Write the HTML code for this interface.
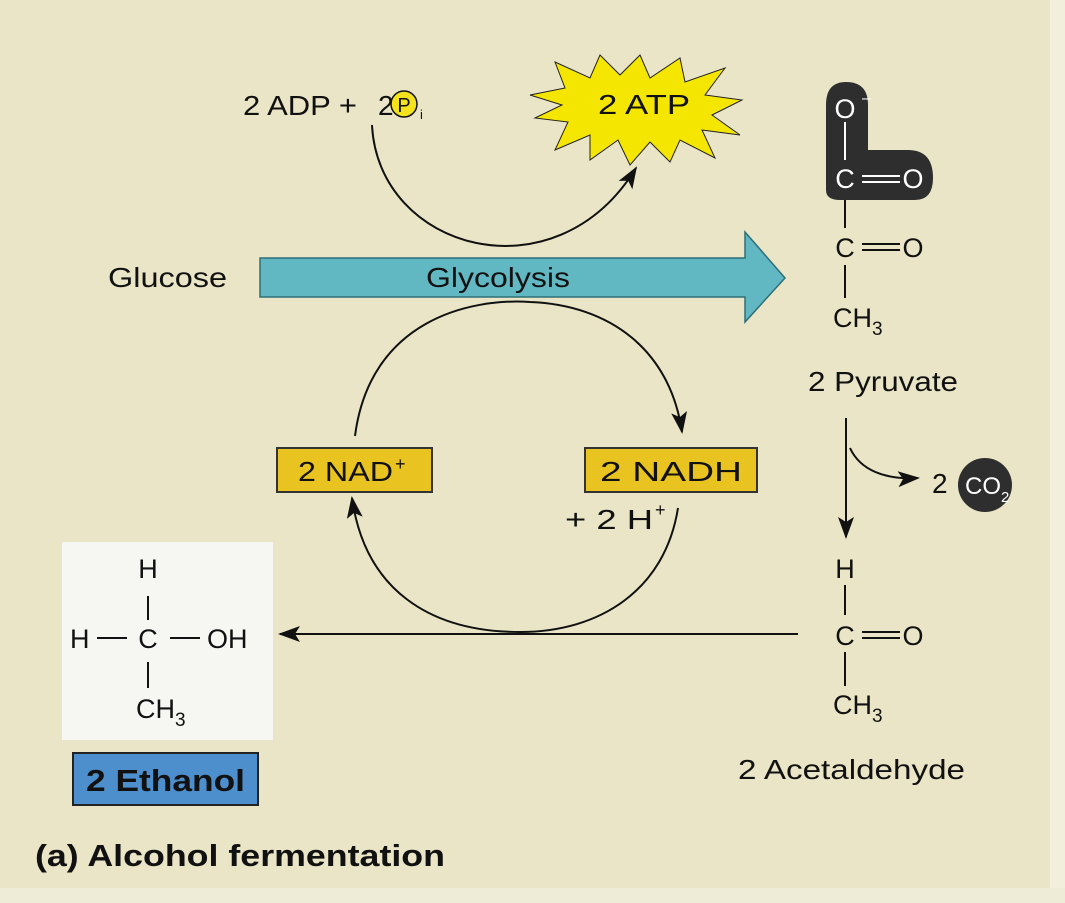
<!DOCTYPE html>
<html><head><meta charset="utf-8"><style>
html,body{margin:0;padding:0;background:#e9e5c6;}
svg{display:block;font-family:"Liberation Sans","DejaVu Sans",sans-serif;}
</style></head><body>
<svg width="1065" height="903" viewBox="0 0 1065 903" xmlns="http://www.w3.org/2000/svg">
<defs>
<marker id="ahb" markerWidth="22" markerHeight="16" refX="20" refY="8" orient="auto" markerUnits="userSpaceOnUse">
<path d="M0,0 L22,8 L0,16 L5,8 Z" fill="#111"/></marker>
</defs>
<rect x="0" y="0" width="1065" height="903" fill="#e9e5c6"/>
<rect x="1050" y="0" width="15" height="903" fill="#f2efdd"/>
<rect x="0" y="888" width="1065" height="15" fill="#eeebd6"/>

<!-- top: ADP + Pi -->
<text x="243" y="115" font-size="28" fill="#111" textLength="114" lengthAdjust="spacingAndGlyphs">2 ADP +</text>
<text x="378" y="115" font-size="28" fill="#111">2</text>
<circle cx="404" cy="104" r="13" fill="#f3e21c" stroke="#111" stroke-width="1.5"/>
<text x="404" y="112" font-size="20" text-anchor="middle" fill="#111">P</text>
<text x="420" y="119" font-size="13" fill="#111">i</text>

<!-- starburst -->
<polygon fill="#f5e600" stroke="#222" stroke-width="1" points="530,95 565,88 555,62 590,78 600,55 620,75 640,55 650,78 680,58 685,82 725,68 705,95 742,100 712,115 740,135 702,130 715,158 680,140 670,162 650,142 630,165 618,140 590,160 590,135 555,150 568,122 535,118 562,105"/>
<text x="644" y="114" font-size="28" text-anchor="middle" fill="#111" textLength="92" lengthAdjust="spacingAndGlyphs">2 ATP</text>

<path d="M372,125 C378,250 555,300 636,168" fill="none" stroke="#111" stroke-width="2" marker-end="url(#ahb)"/>

<!-- Glucose + glycolysis arrow -->
<text x="108" y="287" font-size="28" fill="#111" textLength="119" lengthAdjust="spacingAndGlyphs">Glucose</text>
<polygon points="260,258 745,258 745,232 785,278 745,322 745,297 260,297" fill="#62b8c2" stroke="#2d6f78" stroke-width="1.5"/>
<text x="426" y="287" font-size="28" fill="#111" textLength="144" lengthAdjust="spacingAndGlyphs">Glycolysis</text>

<!-- NAD cycle -->
<path d="M355,436 C370,320 470,298 530,302 C610,305 670,350 682,432" fill="none" stroke="#111" stroke-width="2" marker-end="url(#ahb)"/>
<path d="M678,508 C665,590 600,632 520,632 C430,632 365,590 352,498" fill="none" stroke="#111" stroke-width="2" marker-end="url(#ahb)"/>
<rect x="277" y="448" width="155" height="44" fill="#e9c31f" stroke="#333" stroke-width="2"/>
<text x="298" y="481" font-size="28" fill="#111" textLength="95" lengthAdjust="spacingAndGlyphs">2 NAD</text>
<text x="395" y="470" font-size="18" fill="#111">+</text>
<rect x="585" y="448" width="172" height="44" fill="#e9c31f" stroke="#333" stroke-width="2"/>
<text x="600" y="481" font-size="28" fill="#111" textLength="142" lengthAdjust="spacingAndGlyphs">2 NADH</text>
<text x="565" y="529" font-size="28" fill="#111" textLength="88" lengthAdjust="spacingAndGlyphs">+ 2 H</text>
<text x="655" y="516" font-size="18" fill="#111">+</text>

<!-- pyruvate -->
<path d="M846,82 Q826,82 826,105 L826,190 Q826,200 840,200 L915,200 Q933,200 933,178 Q933,150 908,150 L868,150 L868,105 Q868,82 846,82 Z" fill="#2e2e2e"/>
<text x="845" y="118" font-size="27" text-anchor="middle" fill="#fff">O</text>
<text x="862" y="103" font-size="16" fill="#fff">–</text>
<line x1="845" y1="122" x2="845" y2="160" stroke="#fff" stroke-width="2"/>
<text x="845" y="188" font-size="27" text-anchor="middle" fill="#fff">C</text>
<line x1="862" y1="176" x2="900" y2="176" stroke="#fff" stroke-width="2"/>
<line x1="862" y1="182" x2="900" y2="182" stroke="#fff" stroke-width="2"/>
<text x="913" y="188" font-size="27" text-anchor="middle" fill="#fff">O</text>
<line x1="845" y1="200" x2="845" y2="228" stroke="#111" stroke-width="2"/>
<text x="845" y="257" font-size="27" text-anchor="middle" fill="#111">C</text>
<line x1="862" y1="244" x2="900" y2="244" stroke="#111" stroke-width="2"/>
<line x1="862" y1="250" x2="900" y2="250" stroke="#111" stroke-width="2"/>
<text x="913" y="257" font-size="27" text-anchor="middle" fill="#111">O</text>
<line x1="845" y1="265" x2="845" y2="298" stroke="#111" stroke-width="2"/>
<text x="833" y="327" font-size="27" fill="#111">CH<tspan font-size="19" dy="8">3</tspan></text>
<text x="808" y="391" font-size="28" fill="#111" textLength="150" lengthAdjust="spacingAndGlyphs">2 Pyruvate</text>

<!-- down arrow and CO2 -->
<line x1="846" y1="418" x2="846" y2="537" stroke="#111" stroke-width="2" marker-end="url(#ahb)"/>
<path d="M850,448 C860,470 885,480 918,478" fill="none" stroke="#111" stroke-width="2" marker-end="url(#ahb)"/>
<text x="932" y="493" font-size="28" fill="#111">2</text>
<circle cx="985" cy="485" r="27" fill="#2e2e2e"/>
<text x="965" y="494" font-size="24" fill="#fff">CO</text>
<text x="1001" y="502" font-size="15" fill="#fff">2</text>

<!-- acetaldehyde -->
<text x="845" y="578" font-size="27" text-anchor="middle" fill="#111">H</text>
<line x1="845" y1="585" x2="845" y2="615" stroke="#111" stroke-width="2"/>
<text x="845" y="645" font-size="27" text-anchor="middle" fill="#111">C</text>
<line x1="862" y1="632" x2="900" y2="632" stroke="#111" stroke-width="2"/>
<line x1="862" y1="638" x2="900" y2="638" stroke="#111" stroke-width="2"/>
<text x="913" y="645" font-size="27" text-anchor="middle" fill="#111">O</text>
<line x1="845" y1="652" x2="845" y2="686" stroke="#111" stroke-width="2"/>
<text x="833" y="714" font-size="27" fill="#111">CH<tspan font-size="19" dy="8">3</tspan></text>
<text x="738" y="779" font-size="28" fill="#111" textLength="227" lengthAdjust="spacingAndGlyphs">2 Acetaldehyde</text>

<line x1="798" y1="634" x2="280" y2="634" stroke="#111" stroke-width="2" marker-end="url(#ahb)"/>

<!-- ethanol -->
<rect x="62" y="542" width="211" height="198" fill="#f6f6f3"/>
<text x="148" y="578" font-size="27" text-anchor="middle" fill="#111">H</text>
<line x1="148" y1="596" x2="148" y2="620" stroke="#111" stroke-width="2"/>
<text x="70" y="648" font-size="27" fill="#111">H</text>
<line x1="97" y1="638" x2="127" y2="638" stroke="#111" stroke-width="2"/>
<text x="148" y="648" font-size="27" text-anchor="middle" fill="#111">C</text>
<line x1="170" y1="638" x2="200" y2="638" stroke="#111" stroke-width="2"/>
<text x="207" y="648" font-size="27" fill="#111">OH</text>
<line x1="148" y1="662" x2="148" y2="688" stroke="#111" stroke-width="2"/>
<text x="136" y="718" font-size="27" fill="#111">CH<tspan font-size="19" dy="8">3</tspan></text>
<rect x="73" y="753" width="185" height="52" fill="#4c8fcc" stroke="#222" stroke-width="2"/>
<text x="86" y="791" font-size="31" font-weight="bold" fill="#111" textLength="159" lengthAdjust="spacingAndGlyphs">2 Ethanol</text>

<text x="35" y="866" font-size="31" font-weight="bold" fill="#111" textLength="410" lengthAdjust="spacingAndGlyphs">(a) Alcohol fermentation</text>
</svg>
</body></html>
